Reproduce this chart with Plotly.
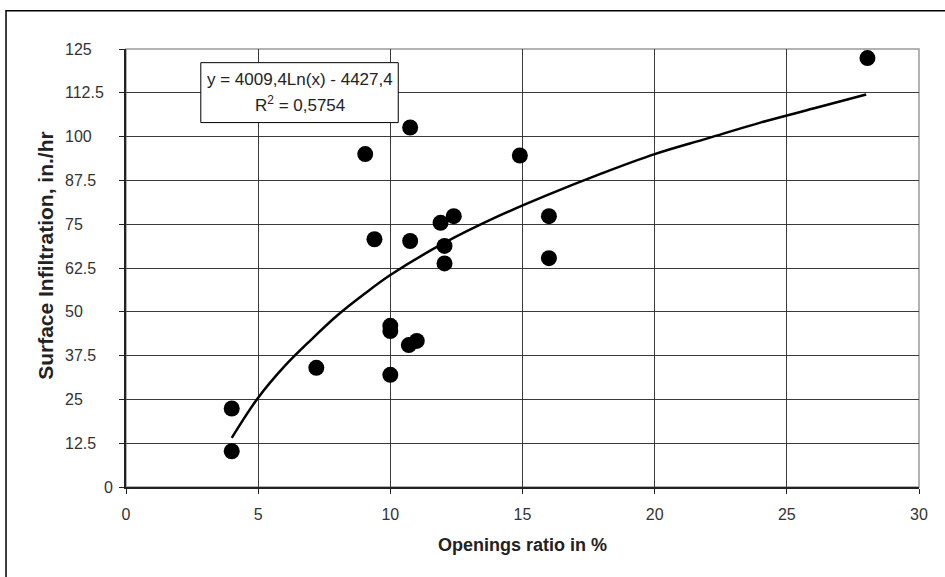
import plotly.graph_objects as go

# Observed data points (Openings ratio %, Surface infiltration in./hr)
openings = [4, 4, 7.2, 10, 10, 10, 10.7, 11, 9.05, 10.75, 9.4, 10.75,
            11.9, 12.4, 12.05, 12.05, 14.9, 16, 16, 28.05]
infiltration = [22.4, 10.2, 34, 32, 46, 44.5, 40.5, 41.7, 95, 102.6, 70.7, 70.2,
                75.4, 77.3, 68.8, 63.8, 94.6, 77.3, 65.3, 122.4]

# Trend curve
trend_x = [4, 5, 6, 7, 8, 9, 10, 12, 14, 16, 18, 20, 22, 24, 26, 28]
trend_y = [14, 25.5, 34.5, 42, 49, 55, 60.5, 69.5, 77, 83.5, 89.5, 95, 99.5, 104, 108, 112]

x_ticks = [0, 5, 10, 15, 20, 25, 30]
y_ticks = [0, 12.5, 25, 37.5, 50, 62.5, 75, 87.5, 100, 112.5, 125]
y_tick_labels = ["0", "12.5", "25", "37.5", "50", "62.5", "75", "87.5", "100", "112.5", "125"]

eq_line1 = "y = 4009,4Ln(x) - 4427,4"
eq_line2 = "R<sup>2</sup> = 0,5754"
x_title = "Openings ratio in %"
y_title = "Surface Infiltration, in./hr"

FONT = "Liberation Sans, Arial, sans-serif"

fig = go.Figure()
fig.add_trace(go.Scatter(x=trend_x, y=trend_y, mode="lines",
                         line=dict(color="black", width=2.5, shape="spline"),
                         hoverinfo="skip", showlegend=False))
fig.add_trace(go.Scatter(x=openings, y=infiltration, mode="markers",
                         marker=dict(color="black", size=16),
                         cliponaxis=False, showlegend=False))

annotations = []
for v, lab in zip(y_ticks, y_tick_labels):
    if lab == "0":
        annotations.append(dict(x=-0.0139, xref="paper", y=v, yref="y", text=lab,
                                showarrow=False, xanchor="right", yanchor="middle",
                                font=dict(family=FONT, size=16, color="#333")))
    else:
        annotations.append(dict(x=-0.0794, xref="paper", y=v, yref="y", text=lab,
                                showarrow=False, xanchor="left", yanchor="middle",
                                font=dict(family=FONT, size=16, color="#333")))

annotations += [
    dict(x=6.565, y=116.2, xref="x", yref="y", text=eq_line1, showarrow=False,
         xanchor="center", yanchor="middle",
         font=dict(family=FONT, size=17, color="#222")),
    dict(x=6.565, y=109.4, xref="x", yref="y", text=eq_line2, showarrow=False,
         xanchor="center", yanchor="middle",
         font=dict(family=FONT, size=17, color="#222")),
    dict(x=0.5, y=-0.1325, xref="paper", yref="paper", text="<b>%s</b>" % x_title,
         showarrow=False, xanchor="center", yanchor="middle",
         font=dict(family=FONT, size=18, color="#222")),
    dict(x=-0.1009, y=0.53, xref="paper", yref="paper", text="<b>%s</b>" % y_title,
         showarrow=False, textangle=-90, xanchor="center", yanchor="middle",
         font=dict(family=FONT, size=21, color="#222")),
]

shapes = [
    # outer frame
    dict(type="rect", xref="paper", yref="paper", x0=-0.1513, x1=1.2, y0=-0.5, y1=1.0874,
         line=dict(color="black", width=1.5), fillcolor="rgba(0,0,0,0)", layer="above"),
    # plot area border (top/right grey)
    dict(type="rect", xref="paper", yref="paper", x0=0, x1=1, y0=0, y1=1,
         line=dict(color="#999", width=1.5), fillcolor="rgba(0,0,0,0)", layer="between"),
    # equation box
    dict(type="rect", xref="x", yref="y", x0=2.83, x1=10.3, y0=104, y1=121.1,
         line=dict(color="black", width=1), fillcolor="white", layer="between"),
]

fig.update_layout(
    width=945, height=577,
    margin=dict(l=126, r=26, t=49, b=90),
    paper_bgcolor="white", plot_bgcolor="white",
    font=dict(family=FONT, size=16, color="#333"),
    annotations=annotations, shapes=shapes,
    xaxis=dict(range=[0, 30], tickvals=x_ticks, ticks="outside", ticklen=5,
               tickcolor="#222", showgrid=True, gridcolor="#3a3a3a", gridwidth=1.4,
               showline=True, linecolor="#222", linewidth=1.6, zeroline=False,
               ticklabelstandoff=7, tickfont=dict(size=16, color="#333")),
    yaxis=dict(range=[0, 125], tickvals=y_ticks, ticks="outside", ticklen=5,
               tickcolor="#222", showgrid=True, gridcolor="#3a3a3a", gridwidth=1.4,
               showline=True, linecolor="#222", linewidth=1.6, zeroline=False,
               showticklabels=False),
)

fig.write_html("out.html", config={"displayModeBar": False},
               post_script="document.body.style.margin='0';document.body.style.overflow='hidden';")
